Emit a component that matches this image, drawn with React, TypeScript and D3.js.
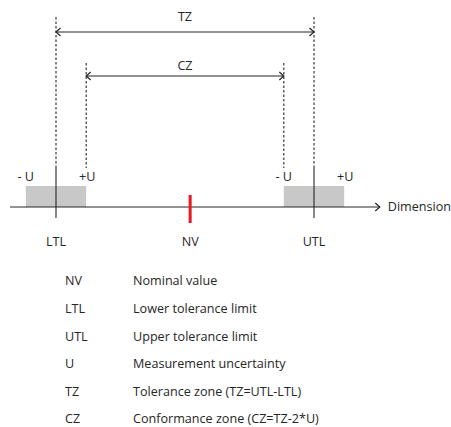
import React from "react";
import * as d3 from "d3";

// Tolerance scheme values (arbitrary units)
const LTL = 0;
const UTL = 10;
const NV = 5.2;
const U = 1.17;
const AXIS_RANGE = [-1.78, 12.55];
const legendCodes = ["NV", "LTL", "UTL", "U", "TZ", "CZ"];
const legendTexts = [
  "Nominal value",
  "Lower tolerance limit",
  "Upper tolerance limit",
  "Measurement uncertainty",
  "Tolerance zone (TZ=UTL-LTL)",
  "Conformance zone (CZ=TZ-2*U)",
];

const W = 451;
const H = 427;
const FONT = "'Open Sans', sans-serif";
const INK = "#262626";
const FS = 12.6;

export default function App() {
  const x = d3.scaleLinear().domain([LTL, UTL]).range([56, 314]);
  const axisY = 207;
  const tzY = 32;
  const czY = 76;
  const dash = "2.5,2";
  const legY = d3.scalePoint<number>().domain(d3.range(legendCodes.length)).range([281, 419]);

  const arrowHead = (px: number, py: number, dir: number) => {
    const p = d3.path();
    p.moveTo(px - dir * 4.5, py - 4);
    p.lineTo(px, py);
    p.lineTo(px - dir * 4.5, py + 4);
    return p.toString();
  };

  const dimArrow = (x1: number, x2: number, y: number, key: string) => (
    <g key={key} stroke={INK} strokeWidth={1.2} fill="none">
      <line x1={x1} x2={x2} y1={y} y2={y} />
      <path d={arrowHead(x1, y, -1)} />
      <path d={arrowHead(x2, y, 1)} />
    </g>
  );

  const limits = [LTL, UTL];
  const czLimits = [LTL + U, UTL - U];

  return (
    <svg
      width={W}
      height={H}
      style={{ position: "absolute", left: 0, top: 0, background: "#fff" }}
      fontFamily={FONT}
    >
      {/* uncertainty boxes */}
      {limits.map((v, i) => (
        <rect
          key={"box" + i}
          x={x(v - U)}
          y={186}
          width={x(v + U) - x(v - U)}
          height={axisY - 186}
          fill="#c8c8c8"
        />
      ))}
      {/* dimension axis */}
      <line x1={x(AXIS_RANGE[0])} x2={x(AXIS_RANGE[1])} y1={axisY} y2={axisY} stroke={INK} strokeWidth={1.2} />
      <path d={arrowHead(x(AXIS_RANGE[1]), axisY, 1)} stroke={INK} strokeWidth={1.2} fill="none" />
      <text x={x(AXIS_RANGE[1]) + 8} y={axisY} dy="0.35em" fontSize={FS} fill={INK}>
        Dimension
      </text>

      {/* limit lines */}
      {limits.map((v, i) => (
        <g key={"lim" + i} stroke={INK} strokeWidth={1.1}>
          <line x1={x(v)} x2={x(v)} y1={17} y2={168} strokeDasharray={dash} />
          <line x1={x(v)} x2={x(v)} y1={168} y2={218} />
        </g>
      ))}
      {czLimits.map((v, i) => (
        <line key={"cz" + i} x1={x(v)} x2={x(v)} y1={63} y2={168} stroke={INK} strokeWidth={1.1} strokeDasharray={dash} />
      ))}

      {/* nominal value */}
      <line x1={x(NV)} x2={x(NV)} y1={195} y2={223} stroke="#e8191f" strokeWidth={3} />

      {/* dimension arrows */}
      {dimArrow(x(LTL), x(UTL), tzY, "tz")}
      {dimArrow(x(czLimits[0]), x(czLimits[1]), czY, "czA")}
      <text x={(x(LTL) + x(UTL)) / 2} y={17} dy="0.35em" textAnchor="middle" fontSize={FS} fill={INK}>TZ</text>
      <text x={(x(czLimits[0]) + x(czLimits[1])) / 2} y={66} dy="0.35em" textAnchor="middle" fontSize={FS} fill={INK}>CZ</text>

      {/* U labels */}
      {limits.map((v, i) => (
        <g key={"ul" + i} fontSize={FS} fill={INK}>
          <text x={x(v - U)} y={177} dy="0.35em" textAnchor="middle">- U</text>
          <text x={x(v + U) + 1} y={177} dy="0.35em" textAnchor="middle">+U</text>
        </g>
      ))}

      {/* axis labels */}
      {[
        ["LTL", LTL],
        ["NV", NV],
        ["UTL", UTL],
      ].map(([t, v]) => (
        <text key={"al" + t} x={x(v as number)} y={242} dy="0.35em" textAnchor="middle" fontSize={FS} fill={INK}>
          {t}
        </text>
      ))}

      {/* legend */}
      {legendCodes.map((c, i) => (
        <g key={"leg" + c} fontSize={FS} fill={INK}>
          <text x={65} y={legY(i)} dy="0.35em">{c}</text>
          <text x={133} y={legY(i)} dy="0.35em">{legendTexts[i]}</text>
        </g>
      ))}
    </svg>
  );
}
